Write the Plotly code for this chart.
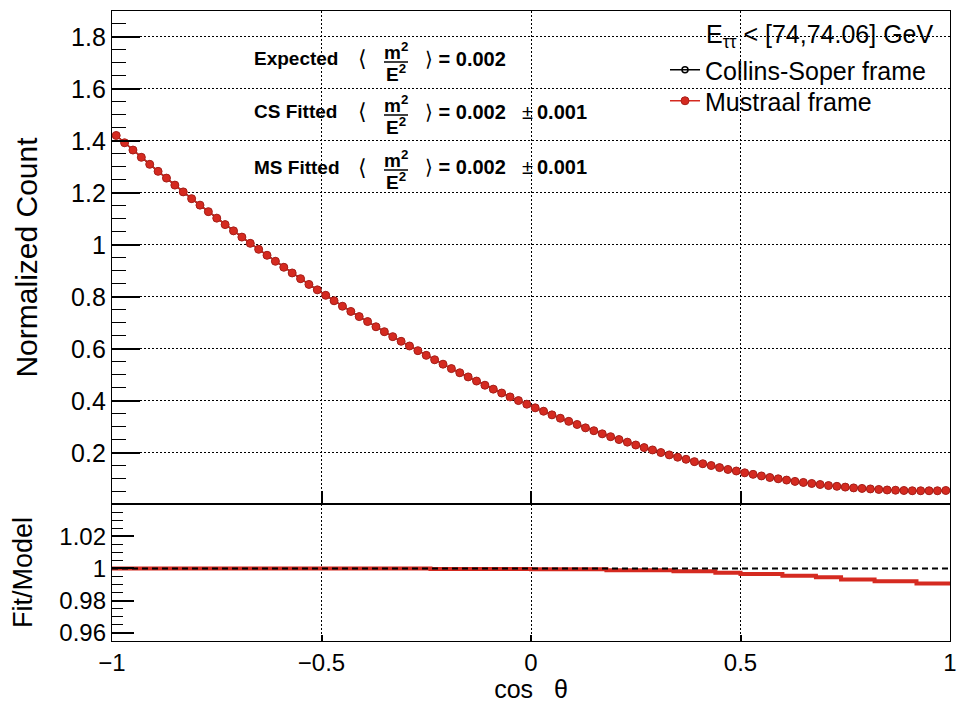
import plotly.graph_objects as go

# ---------------- data ----------------
N_BINS = 100
X_LO, X_HI = -1.0, 1.0

# normalized counts per bin (cos theta from -1 to 1, 100 bins)
counts_ms = [
    1.421, 1.393, 1.365, 1.337, 1.310, 1.283, 1.257, 1.230, 1.204, 1.178,
    1.153, 1.128, 1.103, 1.078, 1.054, 1.030, 1.006, 0.983, 0.960, 0.937,
    0.914, 0.892, 0.870, 0.848, 0.827, 0.806, 0.785, 0.764, 0.744, 0.724,
    0.705, 0.685, 0.666, 0.647, 0.629, 0.611, 0.593, 0.575, 0.558, 0.541,
    0.524, 0.508, 0.492, 0.476, 0.460, 0.445, 0.430, 0.415, 0.401, 0.387,
    0.373, 0.360, 0.346, 0.333, 0.321, 0.309, 0.296, 0.285, 0.273, 0.262,
    0.251, 0.241, 0.230, 0.220, 0.211, 0.201, 0.192, 0.183, 0.175, 0.166,
    0.158, 0.151, 0.143, 0.136, 0.130, 0.123, 0.117, 0.111, 0.105, 0.100,
    0.095, 0.090, 0.086, 0.082, 0.078, 0.074, 0.071, 0.068, 0.065, 0.063,
    0.061, 0.059, 0.057, 0.056, 0.055, 0.054, 0.054, 0.054, 0.054, 0.055,
]
counts_cs = list(counts_ms)

# Fit / Model ratio per bin
ratio_ms = ([1.0000] * 38 + [0.9997] * 12 + [0.9995] * 9 + [0.9989] * 8
            + [0.9982] * 5 + [0.9974] * 3 + [0.9965] * 5 + [0.9955] * 4
            + [0.9945] * 3 + [0.9932] * 4 + [0.9920] * 5 + [0.9906] * 4)
ratio_cs = [1.0000] * 39 + ratio_ms[39:]

row_labels = ["Expected", "CS Fitted", "MS Fitted"]
row_values = ["0.002", "0.002", "0.002"]
row_errors = [None, "0.001", "0.001"]
legend_header = "E<sub>ττ</sub> &lt; [74,74.06] GeV"

# ---------------- geometry helpers ----------------
W, H = 958, 703
L, R, T, B = 112, 950, 11, 641
SPLIT = 504


def px(x):
    return (x - L) / (R - L)


def py(y):
    return (B - y) / (B - T)


width = (X_HI - X_LO) / N_BINS
centers = [X_LO + width * (i + 0.5) for i in range(N_BINS)]
edges = [X_LO + width * i for i in range(N_BINS + 1)]

RED = "#d52a20"
FONT = "Liberation Sans, Arial, Helvetica, sans-serif"

fig = go.Figure()

fig.add_trace(go.Scatter(
    x=centers, y=counts_cs, mode="lines+markers", name="Collins-Soper frame",
    line=dict(color="black", width=1.5),
    marker=dict(symbol="circle-open", size=6, color="black", line=dict(width=1.5)),
    xaxis="x", yaxis="y", legend="legend"))
fig.add_trace(go.Scatter(
    x=centers, y=counts_ms, mode="lines+markers", name="Mustraal frame",
    line=dict(color=RED, width=1.5),
    marker=dict(symbol="circle", size=8, color=RED, line=dict(color="#a8201a", width=1)),
    xaxis="x", yaxis="y", legend="legend2"))

fig.add_trace(go.Scatter(
    x=edges, y=ratio_cs + [ratio_cs[-1]], mode="lines", line_shape="hv",
    line=dict(color="black", width=2), showlegend=False, xaxis="x2", yaxis="y2"))
fig.add_trace(go.Scatter(
    x=edges, y=ratio_ms + [ratio_ms[-1]], mode="lines", line_shape="hv",
    line=dict(color=RED, width=4), showlegend=False, xaxis="x2", yaxis="y2"))

grid = dict(showgrid=True, gridcolor="black", gridwidth=1, griddash="2px,2px")
frame = dict(showline=True, mirror=True, linecolor="black", linewidth=1.3,
             zeroline=False, automargin=False)

legend_common = dict(xanchor="left", yanchor="middle", bgcolor="rgba(0,0,0,0)",
                     borderwidth=0, font=dict(size=25, family=FONT), tracegroupgap=0)

fig.update_layout(
    width=W, height=H,
    margin=dict(l=L, r=W - R, t=T, b=H - B, pad=0, autoexpand=False),
    paper_bgcolor="white", plot_bgcolor="white",
    font=dict(family=FONT, color="black"),
    xaxis=dict(domain=[0, 1], anchor="y", range=[X_LO, X_HI], dtick=0.5, tick0=0,
               ticks="inside", ticklen=13, tickwidth=1.5, tickcolor="black",
               showticklabels=False, **grid, **frame),
    yaxis=dict(domain=[py(SPLIT), 1], anchor="x", range=[0.003, 1.9], dtick=0.2, tick0=0,
               ticks="inside", ticklen=28, tickwidth=1.5, tickcolor="black",
               minor=dict(ticks="inside", ticklen=14, dtick=0.05, tick0=0,
                          tickcolor="black", tickwidth=1.2, showgrid=False),
               tickfont=dict(size=25, family=FONT),
               title=dict(text="Normalized Count", font=dict(size=30, family=FONT), standoff=24),
               **grid, **frame),
    xaxis2=dict(domain=[0, 1], anchor="y2", range=[X_LO, X_HI], dtick=0.5, tick0=0,
                ticks="inside", ticklen=6, tickwidth=1.5, tickcolor="black",
                tickfont=dict(size=24, family=FONT),
                title=dict(text="cos\u00a0\u00a0 θ", font=dict(size=25, family=FONT), standoff=8),
                **grid, **frame),
    yaxis2=dict(domain=[0, py(SPLIT)], anchor="x2", range=[0.955, 1.04],
                tickvals=[0.96, 0.98, 1.0, 1.02], ticktext=["0.96", "0.98", "1", "1.02"],
                ticks="inside", ticklen=22, tickwidth=1.5, tickcolor="black",
                minor=dict(ticks="inside", ticklen=11, dtick=0.005, tick0=0.96,
                           tickcolor="black", tickwidth=1.2, showgrid=False),
                tickfont=dict(size=24, family=FONT),
                title=dict(text="Fit/Model", font=dict(size=27, family=FONT), standoff=18),
                showgrid=False, **frame),
    legend=dict(x=px(665), y=py(70), **legend_common),
    legend2=dict(x=px(665), y=py(101), **legend_common),
    showlegend=True,
)

# dashed reference line at 1 in ratio panel
fig.add_shape(type="line", xref="x2", yref="y2", x0=X_LO, x1=X_HI, y0=1, y1=1,
              line=dict(color="black", width=2, dash="6px,4px"), layer="above")

annotations = []
annotations.append(dict(text=legend_header, x=px(704), y=py(36), xref="paper", yref="paper",
                        xanchor="left", yanchor="middle", showarrow=False,
                        font=dict(size=25, family=FONT)))

row_y = [59, 112, 167]
for lab, val, err, yc in zip(row_labels, row_values, row_errors, row_y):
    annotations.append(dict(text=f"<b>{lab}</b>", x=px(252), y=py(yc), xref="paper", yref="paper",
                            xanchor="left", yanchor="middle", showarrow=False,
                            font=dict(size=19, family=FONT)))
    annotations.append(dict(text="⟨", x=px(362), y=py(yc), xref="paper", yref="paper",
                            xanchor="center", yanchor="middle", showarrow=False,
                            font=dict(size=22, family="DejaVu Sans")))
    annotations.append(dict(text="<b>m<sup>2</sup></b>", x=px(396), y=py(yc - 8), xref="paper",
                            yref="paper", xanchor="center", yanchor="middle", showarrow=False,
                            font=dict(size=19, family=FONT)))
    annotations.append(dict(text="<b>E<sup>2</sup></b>", x=px(396), y=py(yc + 14), xref="paper",
                            yref="paper", xanchor="center", yanchor="middle", showarrow=False,
                            font=dict(size=19, family=FONT)))
    annotations.append(dict(text=f"⟩ <b>= {val}</b>", x=px(423), y=py(yc), xref="paper",
                            yref="paper", xanchor="left", yanchor="middle", showarrow=False,
                            font=dict(size=20, family=FONT)))
    if err is not None:
        annotations.append(dict(text=f"±\u2009<b>{err}</b>", x=px(520), y=py(yc), xref="paper",
                                yref="paper", xanchor="left", yanchor="middle", showarrow=False,
                                font=dict(size=20, family=FONT)))
    fig.add_shape(type="line", xref="paper", yref="paper", x0=px(384), x1=px(408),
                  y0=py(yc + 3), y1=py(yc + 3), line=dict(color="black", width=1.5))

fig.update_layout(annotations=annotations)

fig.write_html("out.html")
